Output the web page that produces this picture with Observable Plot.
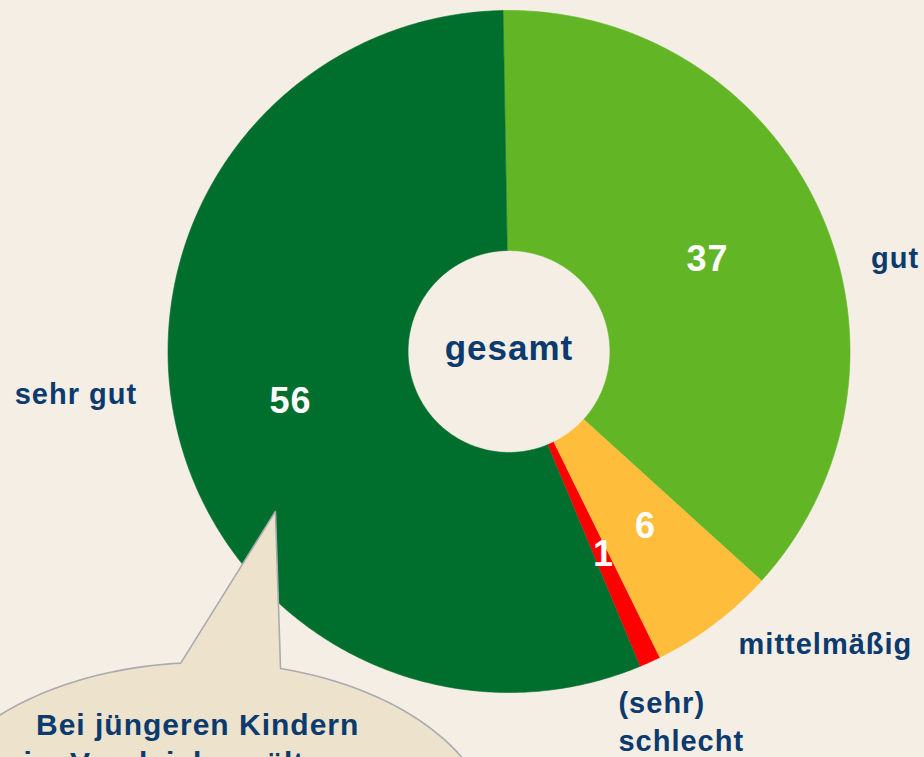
<!DOCTYPE html>
<html>
<head>
<meta charset="utf-8">
<script src="https://cdn.jsdelivr.net/npm/d3@7"></script>
<script src="https://cdn.jsdelivr.net/npm/@observablehq/plot@0.6"></script>
<style>
  html, body { margin: 0; padding: 0; background: #f5eee4; overflow: hidden; }
  #chart svg text { letter-spacing: 1px; }
</style>
</head>
<body>
<div id="chart"></div>
<script>
// ---- data ----
const categories = ["gut", "mittelmäßig", "(sehr) schlecht", "sehr gut"];
const values = [37, 6, 1, 56];
const valueLabels = ["37", "6", "1", "56"];
const centerLabel = "gesamt";
const bubbleLines = ["Bei jüngeren Kindern", "im Vergleich zu älteren"];

// ---- styles ----
const colors = ["#62b626", "#ffbd3c", "#ff0000", "#006e2d"];
const textColor = "#0b3a6e";
const bubbleFill = "#ede2cc";
const bubbleStroke = "#a9abb0";
const fontFamily = "'Liberation Sans', Arial, Helvetica, sans-serif";

// ---- layout (chart units, outer radius = 1) ----
const startAngle = -1;      // degrees, clockwise from top
const innerRadius = 0.296;
const valueLabelPos = [[0.582, 0.271], [0.400, -0.512], [0.277, -0.594], [-0.641, -0.148]];
const centeredLabels = [
  {text: "gut", x: 1.132, y: 0.273},
  {text: "mittelmäßig", x: 0.928, y: -0.859},
  {text: "sehr gut", x: -1.270, y: -0.126}
];
const startLabels = [
  {text: "(sehr)", x: 0.321, y: -1.032},
  {text: "schlecht", x: 0.321, y: -1.144}
];
const bubble = {cx: -0.890, cy: -1.434, rx: 0.850, ry: 0.522, tipX: -0.685, tipY: -0.469,
  tLeft: 94.9, tRight: 75.0};
const bubbleTextPos = [[-0.913, -1.097], [-0.913, -1.209]];

// ---- build slice polygons ----
const total = d3.sum(values);
const rad = (d) => d * Math.PI / 180;
const slicePoints = [];
let acc = 0;
values.forEach((v, i) => {
  const a0 = startAngle + acc / total * 360;
  acc += v;
  const a1 = startAngle + acc / total * 360;
  const n = Math.max(2, Math.ceil((a1 - a0) / 0.5));
  for (let k = 0; k <= n; k++) {
    const a = rad(a0 + (a1 - a0) * k / n);
    slicePoints.push({key: categories[i], x: Math.sin(a), y: Math.cos(a)});
  }
  for (let k = n; k >= 0; k--) {
    const a = rad(a0 + (a1 - a0) * k / n);
    slicePoints.push({key: categories[i], x: innerRadius * Math.sin(a), y: innerRadius * Math.cos(a)});
  }
});

// ---- speech bubble outline ----
const bubblePoints = [];
{
  const t0 = bubble.tLeft, t1 = bubble.tRight + 360;
  const n = 240;
  for (let k = 0; k <= n; k++) {
    const t = rad(t0 + (t1 - t0) * k / n);
    bubblePoints.push({x: bubble.cx + bubble.rx * Math.cos(t), y: bubble.cy + bubble.ry * Math.sin(t)});
  }
  bubblePoints.push({x: bubble.tipX, y: bubble.tipY});
  bubblePoints.push(bubblePoints[0]);
}

const valueData = valueLabels.map((t, i) => ({text: t, x: valueLabelPos[i][0], y: valueLabelPos[i][1]}));
const bubbleText = bubbleLines.map((t, i) => ({text: t, x: bubbleTextPos[i][0], y: bubbleTextPos[i][1]}));

const chart = Plot.plot({
  width: 924,
  height: 757,
  margin: 0,
  x: {domain: [-1, 1], range: [167.5, 849.5], axis: null},
  y: {domain: [-1, 1], range: [692, 10], axis: null},
  color: {domain: categories, range: colors},
  style: {background: "#f5eee4", fontFamily, overflow: "hidden"},
  marks: [
    Plot.line(slicePoints, {x: "x", y: "y", z: "key", fill: "key", stroke: "key", strokeWidth: 0.6, curve: "linear"}),
    Plot.line(bubblePoints, {x: "x", y: "y", fill: bubbleFill, stroke: bubbleStroke, strokeWidth: 1.6, curve: "linear"}),
    Plot.text(valueData, {x: "x", y: "y", text: "text", fill: "white", fontSize: 36, fontWeight: "bold", fontFamily}),
    Plot.text([centerLabel], {x: () => 0, y: () => 0.009, text: (d) => d, fill: textColor, fontSize: 35, fontWeight: "bold", fontFamily}),
    Plot.text(centeredLabels, {x: "x", y: "y", text: "text", textAnchor: "middle", fill: textColor, fontSize: 29, fontWeight: "bold", fontFamily}),
    Plot.text(startLabels, {x: "x", y: "y", text: "text", textAnchor: "start", fill: textColor, fontSize: 29, fontWeight: "bold", fontFamily}),
    Plot.text(bubbleText, {x: "x", y: "y", text: "text", fill: textColor, fontSize: 30, fontWeight: "bold", fontFamily})
  ]
});
document.getElementById("chart").append(chart);
</script>
</body>
</html>
